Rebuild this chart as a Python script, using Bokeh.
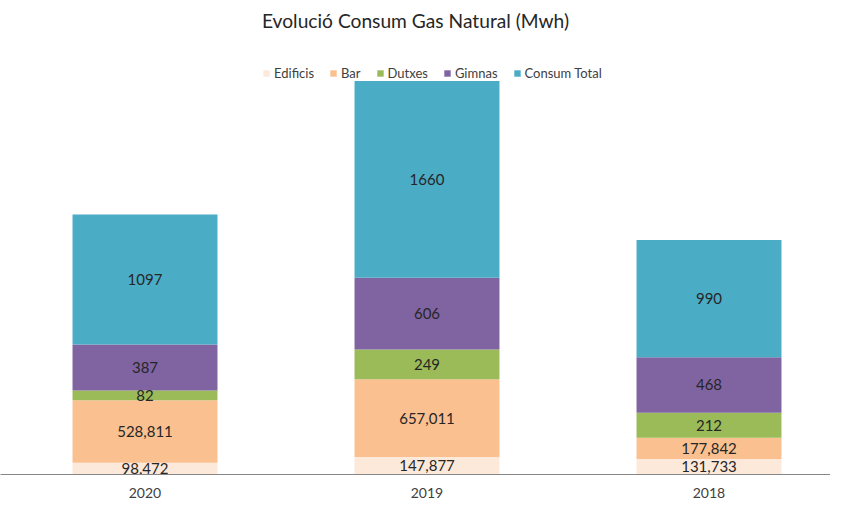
from bokeh.plotting import figure
from bokeh.models import ColumnDataSource, FixedTicker, Range1d, Legend, LegendItem
from bokeh.embed import file_html
from bokeh.resources import INLINE
from bokeh.core.properties import value

# ---- data ----
years = ["2020", "2019", "2018"]
edificis = [98.472, 147.877, 131.733]
bar = [528.811, 657.011, 177.842]
dutxes = [82, 249, 212]
gimnas = [387, 606, 468]
consum_total = [1097, 1660, 990]

series_names = ["Edificis", "Bar", "Dutxes", "Gimnas", "Consum Total"]
series_values = [edificis, bar, dutxes, gimnas, consum_total]
series_decimals = [3, 3, 0, 0, 0]
colors = ["#fde9d9", "#fac090", "#9bbb59", "#8064a2", "#4bacc6"]

FONT = "Lato"
xs = list(range(len(years)))

data = {"x": xs}
keys = []
for i, vals in enumerate(series_values):
    k = "s%d" % i
    keys.append(k)
    data[k] = vals
src = ColumnDataSource(data)

x0 = -144.5 / 282
p = figure(width=830, height=500, output_backend="svg", toolbar_location=None,
           y_axis_location=None, min_border=0,
           x_range=Range1d(x0, x0 + 830 / 282),
           y_range=Range1d(0, 3688))
p.outline_line_color = None
p.grid.visible = False
p.background_fill_color = "white"
p.border_fill_color = "white"

p.title.text = "Evolució Consum Gas Natural (Mwh)"
p.title.align = "center"
p.title.offset = 10
p.title.text_font = FONT
p.title.text_font_size = "19.2px"
p.title.text_font_style = "normal"
p.title.text_color = "#262626"
p.title.standoff = 4
p.title.padding = 4

renderers = p.vbar_stack(keys, x="x", width=0.514, source=src, color=colors,
                         line_color=None)

# labels
lx, ly, lt = [], [], []
for j in range(len(years)):
    base = 0.0
    for vals, dec in zip(series_values, series_decimals):
        v = vals[j]
        lx.append(xs[j])
        ly.append(base + v / 2)
        lt.append(("{:.%df}" % dec).format(v).replace(".", ","))
        base += v
lsrc = ColumnDataSource(dict(x=lx, y=ly, t=lt))
p.text(x="x", y="y", text="t", source=lsrc, text_align="center",
       text_baseline="middle", text_font=value(FONT), text_font_size="15px",
       text_color="#262626")

# axis
ax = p.xaxis[0]
ax.ticker = FixedTicker(ticks=xs)
ax.major_label_overrides = {i: y for i, y in zip(xs, years)}
ax.major_tick_line_color = None
ax.minor_tick_line_color = None
ax.major_tick_out = 0
ax.major_tick_in = 0
ax.axis_line_color = "#868686"
ax.major_label_text_font = FONT
ax.major_label_text_font_size = "14px"
ax.major_label_text_color = "#404040"
ax.major_label_standoff = 13

legend = Legend(items=[LegendItem(label=n, renderers=[r]) for n, r in zip(series_names, renderers)],
                orientation="horizontal", location=(262, 393),
                glyph_width=8, glyph_height=8, label_standoff=4, spacing=15,
                padding=0, margin=0, border_line_color=None,
                background_fill_alpha=0, label_text_font=FONT,
                label_text_font_size="13px", label_text_color="#404040",
                label_height=13, label_width=10)
p.add_layout(legend)

open("out.html", "w").write(file_html(p, INLINE))
